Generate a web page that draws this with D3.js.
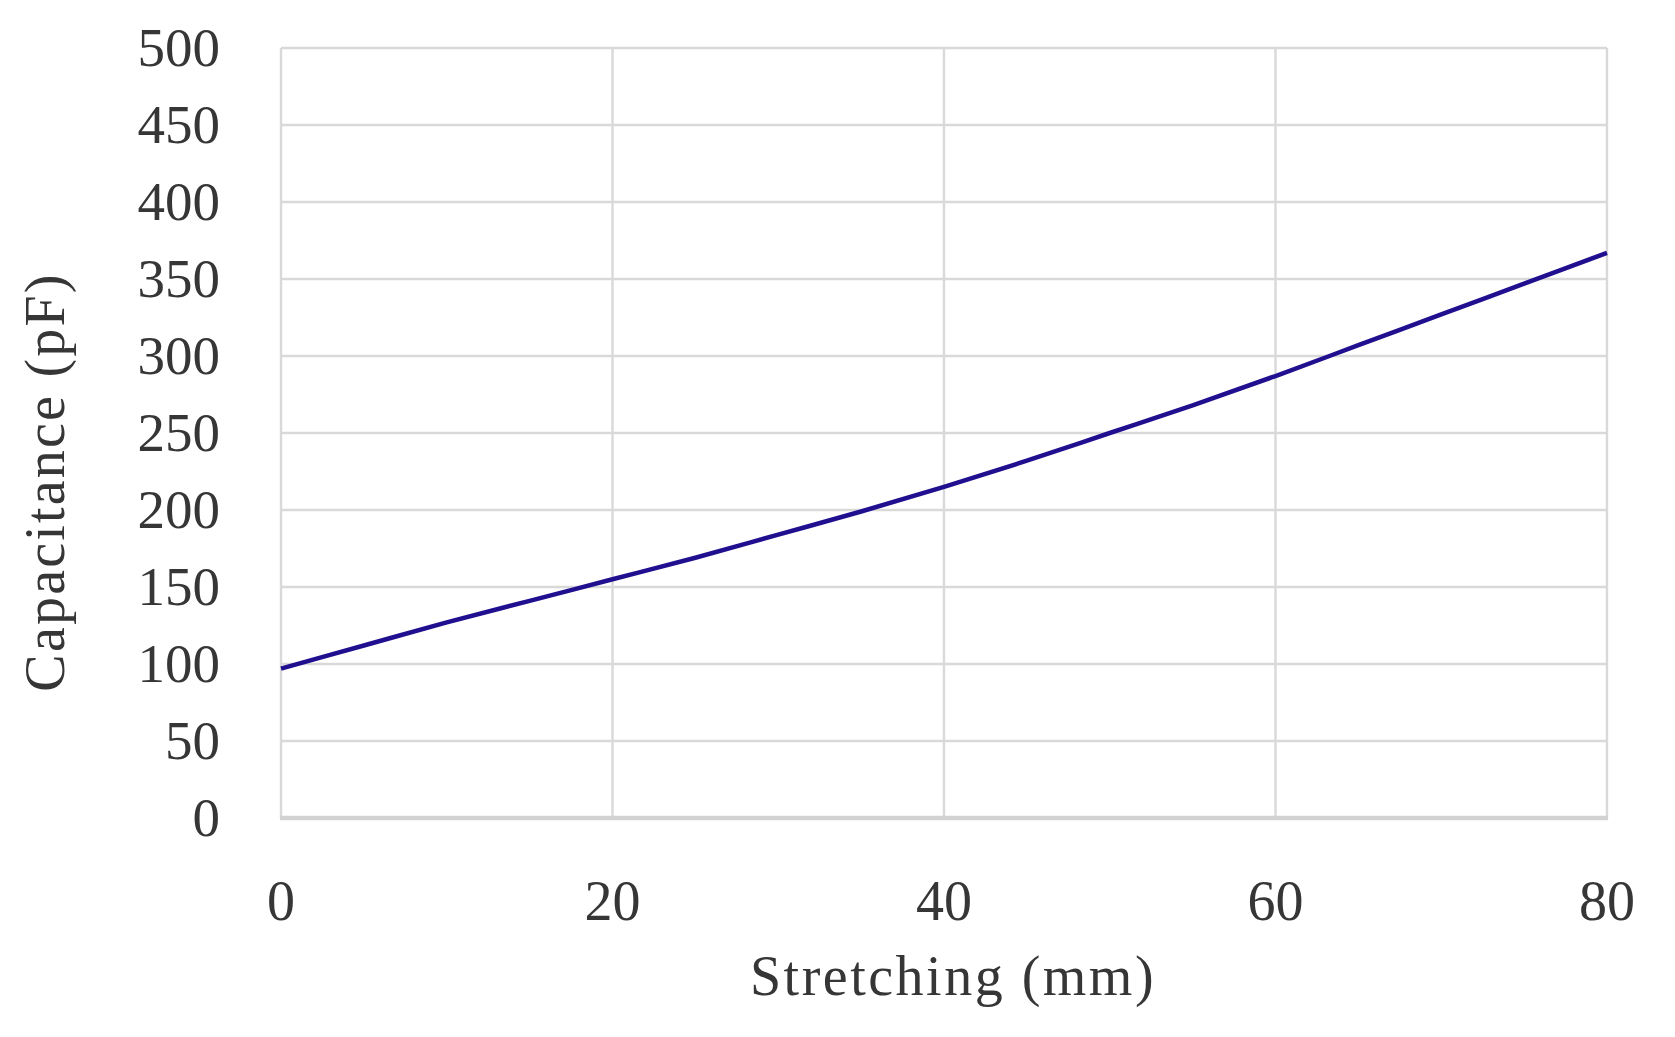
<!DOCTYPE html>
<html><head><meta charset="utf-8">
<script src="https://cdn.jsdelivr.net/npm/d3@7"></script>
<style>html,body{margin:0;padding:0;background:#fff;}svg{display:block;}</style>
</head><body>
<svg id="chart" width="1675" height="1037"></svg>
<script>
const stretching = [0, 5, 10, 15, 20, 25, 30, 35, 40, 45, 50, 55, 60, 65, 70, 75, 80];
const capacitance = [97, 112, 127, 141, 155, 169, 184, 199, 215, 232, 250, 268, 287, 307, 327, 347, 367];
const xTicks = [0, 20, 40, 60, 80];
const yTicks = [0, 50, 100, 150, 200, 250, 300, 350, 400, 450, 500];
const xTitle = "Stretching (mm)";
const yTitle = "Capacitance (pF)";

const svg = d3.select("#chart");
const L = 281, R = 1607, T = 48, B = 818;
const x = d3.scaleLinear().domain([0, 80]).range([L, R]);
const y = d3.scaleLinear().domain([0, 500]).range([B, T]);
const font = "'Liberation Serif', 'Times New Roman', serif";
const textCol = "#363636";

// horizontal grid
svg.append("g").selectAll("line").data(yTicks.filter(d => d > 0)).join("line")
  .attr("x1", L).attr("x2", R).attr("y1", d => y(d)).attr("y2", d => y(d))
  .attr("stroke", "#d9d9d9").attr("stroke-width", 2.4);
// vertical grid
svg.append("g").selectAll("line").data(xTicks).join("line")
  .attr("x1", d => x(d)).attr("x2", d => x(d)).attr("y1", T).attr("y2", B)
  .attr("stroke", "#d9d9d9").attr("stroke-width", 2.4);
// bottom axis line
svg.append("line").attr("x1", L - 1).attr("x2", R + 1).attr("y1", B).attr("y2", B)
  .attr("stroke", "#d2d2d2").attr("stroke-width", 4.5);

// y tick labels
svg.append("g").selectAll("text").data(yTicks).join("text")
  .attr("x", 220).attr("y", d => y(d)).attr("dy", "0.33em")
  .attr("text-anchor", "end").attr("font-family", font).attr("font-size", 55)
  .attr("fill", textCol).text(d => d);
// x tick labels
svg.append("g").selectAll("text").data(xTicks).join("text")
  .attr("x", d => x(d)).attr("y", 920)
  .attr("text-anchor", "middle").attr("font-family", font).attr("font-size", 56)
  .attr("fill", textCol).text(d => d);

// titles
svg.append("text").attr("x", 953).attr("y", 995).attr("text-anchor", "middle")
  .attr("font-family", font).attr("font-size", 56).attr("letter-spacing", 2.5)
  .attr("fill", textCol).text(xTitle);
svg.append("text").attr("transform", "translate(64,482) rotate(-90)").attr("text-anchor", "middle")
  .attr("font-family", font).attr("font-size", 56).attr("letter-spacing", 2.2)
  .attr("fill", textCol).text(yTitle);

// line
const pts = stretching.map((s, i) => [s, capacitance[i]]);
svg.append("path").datum(pts)
  .attr("d", d3.line().x(d => x(d[0])).y(d => y(d[1])).curve(d3.curveCatmullRom.alpha(0.5)))
  .attr("fill", "none").attr("stroke", "#20108f").attr("stroke-width", 4.5)
  .attr("stroke-linecap", "butt").attr("stroke-linejoin", "round");
</script>
</body></html>
